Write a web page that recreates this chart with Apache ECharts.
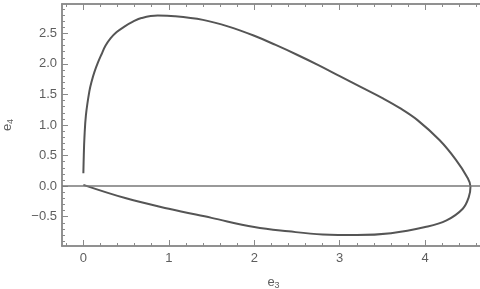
<!DOCTYPE html>
<html>
<head>
<meta charset="utf-8">
<script src="https://cdn.jsdelivr.net/npm/echarts@6/dist/echarts.min.js"></script>
<style>html,body{margin:0;padding:0;background:#fff}#c{width:480px;height:289px}</style>
</head>
<body>
<div id="c"></div>
<script>
// Curve values (e3, e4), traced along the loop
var e3 = [0.000, 0.005, 0.012, 0.03, 0.07, 0.10, 0.13, 0.17, 0.21, 0.26, 0.32, 0.39, 0.48, 0.58, 0.68, 0.87, 1.07, 1.40, 1.70, 2.00, 2.25, 2.50, 2.75, 3.00, 3.25, 3.50, 3.70, 3.91, 4.17, 4.36, 4.49, 4.53, 4.51, 4.44, 4.25, 4.00, 3.60, 3.20, 2.80, 2.40, 2.00, 1.50, 1.00, 0.50, 0.00];
var e4 = [0.21, 0.50, 0.78, 1.16, 1.55, 1.73, 1.87, 2.02, 2.15, 2.30, 2.42, 2.52, 2.61, 2.69, 2.75, 2.79, 2.78, 2.72, 2.61, 2.46, 2.31, 2.15, 1.98, 1.80, 1.62, 1.44, 1.28, 1.08, 0.75, 0.43, 0.15, -0.01, -0.18, -0.37, -0.56, -0.67, -0.77, -0.80, -0.79, -0.74, -0.67, -0.52, -0.37, -0.20, 0.02];
var xMajor = [0, 1, 2, 3, 4];
var yMajor = [-0.5, 0.0, 0.5, 1.0, 1.5, 2.0, 2.5];
var xMinor = [-0.2, 0.2, 0.4, 0.6, 0.8, 1.2, 1.4, 1.6, 1.8, 2.2, 2.4, 2.6, 2.8, 3.2, 3.4, 3.6, 3.8, 4.2, 4.4, 4.6];
var yMinor = [-0.9, -0.8, -0.7, -0.6, -0.4, -0.3, -0.2, -0.1, 0.1, 0.2, 0.3, 0.4, 0.6, 0.7, 0.8, 0.9, 1.1, 1.2, 1.3, 1.4, 1.6, 1.7, 1.8, 1.9, 2.1, 2.2, 2.3, 2.4, 2.6, 2.7, 2.8, 2.9];
var xRange = [-0.25, 4.7];
var yRange = [-0.98, 2.98];

var frameColor = '#8a8a8a';
var textColor = '#5e5e5e';
var font = 'Liberation Sans, Arial, sans-serif';

function xAx(pos, ticks, len, labels) {
  return {
    type: 'value', position: pos, min: xRange[0], max: xRange[1],
    axisLine: { show: true, onZero: false, lineStyle: { color: frameColor, width: 1.5 } },
    axisTick: { show: true, inside: true, length: len, customValues: ticks, lineStyle: { color: frameColor, width: 1 } },
    axisLabel: labels ? { show: true, customValues: xMajor, color: textColor, fontSize: 13, fontFamily: font, margin: 6 } : { show: false },
    splitLine: { show: false }
  };
}
function yAx(pos, ticks, len, labels) {
  return {
    type: 'value', position: pos, min: yRange[0], max: yRange[1],
    axisLine: { show: true, onZero: false, lineStyle: { color: frameColor, width: 1.5 } },
    axisTick: { show: true, inside: true, length: len, customValues: ticks, lineStyle: { color: frameColor, width: 1 } },
    axisLabel: labels ? { show: true, customValues: yMajor, color: textColor, fontSize: 13, fontFamily: font, margin: 5,
      formatter: function (v) { var s = Math.abs(v).toFixed(1); return v < 0 ? '\u2212' + s : s; } } : { show: false },
    splitLine: { show: false }
  };
}

var subStyle = { fontSize: 9, verticalAlign: 'bottom', padding: [6, 0, 0, 0], color: textColor, fontFamily: font };
var xs = [xAx('bottom', xMajor, 6, true), xAx('bottom', xMinor, 3, false), xAx('top', xMajor, 6, false), xAx('top', xMinor, 3, false)];
xs[0].name = 'e{s|3}';
xs[0].nameLocation = 'middle';
xs[0].nameGap = 29;
xs[0].nameTextStyle = { color: textColor, fontSize: 13, fontFamily: font, rich: { s: subStyle } };
var ys = [yAx('left', yMajor, 6, true), yAx('left', yMinor, 3, false)];
ys[0].name = 'e{s|4}';
ys[0].nameLocation = 'middle';
ys[0].nameGap = 47;
ys[0].nameRotate = 90;
ys[0].nameTextStyle = { color: textColor, fontSize: 13, fontFamily: font, rich: { s: subStyle } };

var pts = e3.map(function (x, i) { return [x, e4[i]]; });

var chart = echarts.init(document.getElementById('c'), null, { renderer: 'canvas' });
chart.setOption({
  animation: false,
  backgroundColor: '#fff',
  grid: { left: 62, top: 4, width: 423, height: 242, containLabel: false, outerBoundsMode: 'none' },
  xAxis: xs,
  yAxis: ys,
  series: [{
    type: 'line', xAxisIndex: 0, yAxisIndex: 0,
    data: pts, smooth: 0.4, showSymbol: false, symbol: 'none',
    lineStyle: { color: '#555', width: 2 },
    markLine: {
      silent: true, symbol: 'none', label: { show: false },
      lineStyle: { color: '#777', width: 1.5, type: 'solid' },
      data: [{ yAxis: 0 }]
    }
  }]
});
</script>
</body>
</html>
